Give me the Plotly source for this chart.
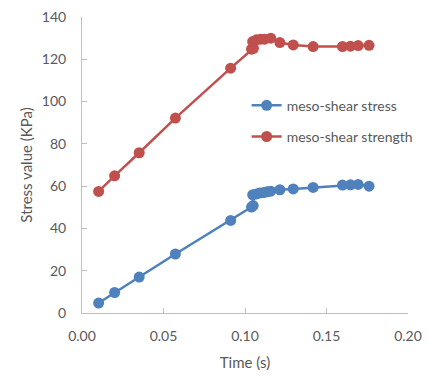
import plotly.graph_objects as go

time_stress = [0.0102, 0.020, 0.0351, 0.0573, 0.0912, 0.104, 0.105, 0.1047, 0.107, 0.109, 0.1115, 0.1135, 0.1158, 0.1214, 0.1296, 0.1418, 0.1598, 0.1647, 0.1694, 0.1761]
stress = [4.7, 9.7, 17.0, 27.9, 43.8, 50.1, 50.8, 55.9, 56.3, 56.7, 57.0, 57.3, 57.6, 58.3, 58.7, 59.4, 60.5, 60.6, 60.8, 60.0]

time_strength = [0.0102, 0.020, 0.0351, 0.0573, 0.0912, 0.104, 0.1052, 0.1047, 0.107, 0.1095, 0.112, 0.1158, 0.1214, 0.1296, 0.1418, 0.1598, 0.1647, 0.1694, 0.1761]
strength = [57.5, 64.9, 75.8, 92.2, 115.8, 124.8, 125.2, 128.4, 129.2, 129.5, 129.5, 130.0, 127.9, 126.8, 126.0, 126.0, 126.2, 126.5, 126.6]

x_ticks = [0.00, 0.05, 0.10, 0.15, 0.20]
y_ticks = [0, 20, 40, 60, 80, 100, 120, 140]

blue = "#4F81BD"
red = "#C0504D"
font = "Lato, 'Open Sans', sans-serif"
grey = "#595959"

fig = go.Figure()
fig.add_trace(go.Scatter(x=time_stress, y=stress, mode="lines+markers", name="meso-shear stress",
                         legendgroup="a", line=dict(color=blue, width=2.5),
                         marker=dict(color=blue, size=11)))
fig.add_trace(go.Scatter(x=time_strength, y=strength, mode="lines+markers", name="meso-shear strength",
                         legendgroup="b", line=dict(color=red, width=2.5),
                         marker=dict(color=red, size=11)))

axis_common = dict(showgrid=False, zeroline=False, showline=True, linecolor="#BFBFBF", linewidth=1,
                   ticks="inside", ticklen=5, tickcolor="#BFBFBF", automargin=False,
                   tickfont=dict(size=14, color=grey, family=font))
fig.update_xaxes(range=[0, 0.2], tickvals=x_ticks, ticktext=[f"{v:.2f}" for v in x_ticks],
                 ticklabelstandoff=10,
                 title=dict(text="Time (s)", font=dict(size=15, color=grey, family=font), standoff=14),
                 **axis_common)
fig.update_yaxes(range=[0, 140], tickvals=y_ticks, ticklabelstandoff=12,
                 title=dict(text="Stress value (KPa)", font=dict(size=15, color=grey, family=font), standoff=5),
                 **axis_common)
fig.update_layout(width=431, height=376, margin=dict(l=82, r=23, t=17, b=63),
                  paper_bgcolor="white", plot_bgcolor="white",
                  legend=dict(x=0.505, y=0.648, xanchor="left", yanchor="middle", traceorder="grouped",
                              tracegroupgap=10, bgcolor="rgba(0,0,0,0)",
                              font=dict(size=14, color=grey, family=font)))
fig.write_html("out.html")
